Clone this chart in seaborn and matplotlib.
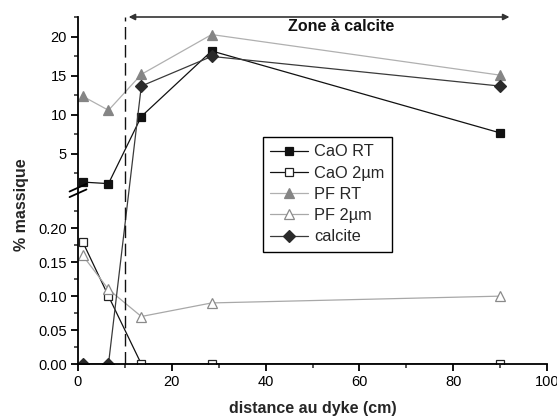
import numpy as np
import pandas as pd
import matplotlib
matplotlib.use("Agg")
import matplotlib.pyplot as plt
from matplotlib.lines import Line2D
from matplotlib.ticker import FixedLocator, NullFormatter, MultipleLocator
import seaborn as sns

# ---------------- data ----------------
distance = [1, 6.5, 13.5, 28.5, 90]
cao_rt = [1.4, 1.2, 9.8, 18.2, 7.7]
cao_2um = [0.18, 0.10, 0.0, 0.0, 0.0]
pf_rt = [12.4, 10.6, 15.2, 20.3, 15.1]
pf_2um = [0.16, 0.11, 0.07, 0.09, 0.10]
calcite = [0.0, 0.0, 13.7, 17.5, 13.7]
series_names = ["CaO RT", "CaO 2µm", "PF RT", "PF 2µm", "calcite"]

lower_ticks = [0.0, 0.05, 0.10, 0.15, 0.20]
lower_labels = ["0.00", "0.05", "0.10", "0.15", "0.20"]
upper_ticks = [5, 10, 15, 20]
upper_labels = ["5", "10", "15", "20"]
x_ticks = [0, 20, 40, 60, 80, 100]

sns.set_style("ticks")
plt.rcParams["font.family"] = ["Liberation Sans", "DejaVu Sans"]

# broken axis: piecewise-linear y scale (screen straight lines like Origin)
yd = np.array([0.0, 0.252, 0.64, 22.55])
ys = np.array([0.0, 171.0, 176.0, 347.0])


def _pw(v, a, b):
    v = np.asarray(v, dtype=float)
    s1 = (b[1] - b[0]) / (a[1] - a[0])
    s2 = (b[2] - b[1]) / (a[2] - a[1])
    s3 = (b[3] - b[2]) / (a[3] - a[2])
    return np.where(v <= a[1], b[0] + (v - a[0]) * s1,
                    np.where(v <= a[2], b[1] + (v - a[1]) * s2,
                             b[2] + (v - a[2]) * s3))


def fwd(v):
    return _pw(v, yd, ys)


def inv(v):
    return _pw(v, ys, yd)


fig = plt.figure(figsize=(5.57, 4.18), dpi=100)
ax = fig.add_axes([78 / 557, 54 / 418, 469 / 557, 347 / 418])
ax.set_yscale("function", functions=(fwd, inv))

df = pd.DataFrame({"distance": distance, "CaO RT": cao_rt, "CaO 2µm": cao_2um,
                   "PF RT": pf_rt, "PF 2µm": pf_2um, "calcite": calcite})

styles = {
    "CaO RT": dict(color="#111111", marker="s", markersize=5.5, markerfacecolor="#111111",
                   markeredgecolor="#111111"),
    "CaO 2µm": dict(color="#111111", marker="s", markersize=5.5, markerfacecolor="white",
                    markeredgecolor="#222222"),
    "PF RT": dict(color="#b0b0b0", marker="^", markersize=7.5, markerfacecolor="#858585",
                  markeredgecolor="#858585"),
    "PF 2µm": dict(color="#a8a8a8", marker="^", markersize=7.5, markerfacecolor="white",
                   markeredgecolor="#8a8a8a"),
    "calcite": dict(color="#3a3a3a", marker="D", markersize=6, markerfacecolor="#2a2a2a",
                    markeredgecolor="#2a2a2a"),
}

handles = []
for name in series_names:
    st = styles[name]
    sns.lineplot(data=df, x="distance", y=name, ax=ax, linewidth=0.9,
                 markeredgewidth=0.9, legend=False, **st)
    handles.append(Line2D([], [], linewidth=0.9, markeredgewidth=0.9, **st))

ax.set_xlim(0, 100)
ax.set_ylim(0, 22.55)

ax.yaxis.set_major_locator(FixedLocator(lower_ticks + upper_ticks))
ax.set_yticklabels(lower_labels + upper_labels)
ax.yaxis.set_minor_locator(FixedLocator([0.025, 0.075, 0.125, 0.175, 0.225,
                                         2.5, 7.5, 12.5, 17.5, 22.5]))
ax.yaxis.set_minor_formatter(NullFormatter())
ax.set_xticks(x_ticks)
ax.xaxis.set_minor_locator(MultipleLocator(10))

ax.set_xlabel("")
ax.set_ylabel("")
for s in ["top", "right"]:
    ax.spines[s].set_visible(False)
for s in ["left", "bottom"]:
    ax.spines[s].set_linewidth(1.3)
    ax.spines[s].set_color("black")
ax.tick_params(axis="both", which="major", direction="out", length=5, width=1.3,
               labelsize=10.5, pad=3, colors="black")
ax.tick_params(axis="both", which="minor", direction="out", length=3, width=1.1)

# dashed boundary at 10 cm
ax.axvline(10, color="#111111", linewidth=1.0, dashes=(9, 4))

# arrow over the calcite zone
ax.annotate("", xy=(10.8, 1.0), xytext=(92, 1.0),
            xycoords=("data", "axes fraction"), textcoords=("data", "axes fraction"),
            arrowprops=dict(arrowstyle="<|-|>", color="#333333", lw=1.2,
                            mutation_scale=9, shrinkA=0, shrinkB=0),
            annotation_clip=False)
ax.text(56, 0.974, "Zone à calcite", transform=ax.get_xaxis_transform(),
        ha="center", va="center", fontsize=11.5, fontweight="bold", color="#111111")

# break marks on the y axis
for dy in (-0.008, 0.008):
    ax.plot([-0.018, 0.018], [0.5 + dy - 0.011, 0.5 + dy + 0.011],
            transform=ax.transAxes, color="black", lw=1.3, clip_on=False)

leg = fig.legend(handles, series_names, loc="upper left",
                 bbox_to_anchor=(263 / 557, 1 - 137 / 418), borderaxespad=0,
                 frameon=True, fancybox=False, framealpha=1, edgecolor="black",
                 fontsize=11.8, handlelength=2.3, handletextpad=0.35,
                 labelspacing=0.38, borderpad=0.45)
leg.get_frame().set_linewidth(1.0)

fig.text(22 / 557, 1 - 205 / 418, "% massique", rotation=90, ha="center", va="center",
         fontsize=11.5, fontweight="bold")
fig.text((78 + 469 / 2) / 557, 1 - 409 / 418, "distance au dyke (cm)", ha="center",
         va="center", fontsize=11.5, fontweight="bold")

fig.savefig("out.png", dpi=100, facecolor="white")
